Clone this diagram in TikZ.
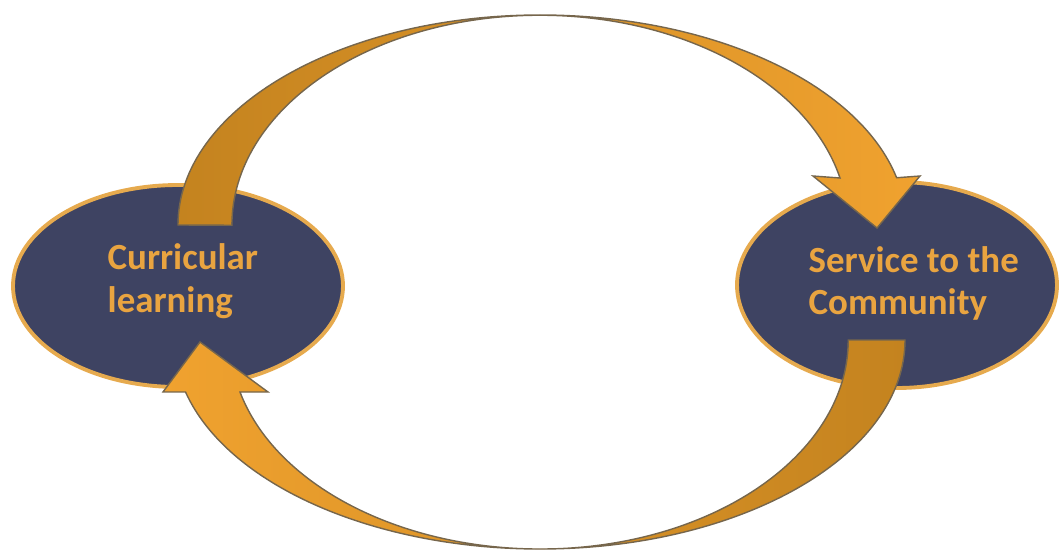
\documentclass[tikz,border=0pt]{standalone}
\usepackage{fontspec}
\setmainfont{Carlito}
\usetikzlibrary{shapes.geometric}
\definecolor{azul}{HTML}{3E4362}
\definecolor{borda}{HTML}{E6AA4E}
\definecolor{letra}{HTML}{E9A440}
\definecolor{laranjaescuro}{HTML}{C4831F}
\definecolor{laranjaclaro}{HTML}{F0A22F}
\definecolor{contorno}{HTML}{76664C}
\tikzset{
  bloco/.style={ellipse, draw=borda, line width=1.1pt, fill=azul, inner sep=0pt},
  texto/.style={anchor=west, text=letra, align=left, inner sep=0pt,
    font=\bfseries\fontsize{10.5}{12.2}\selectfont},
  seta/.style={draw=contorno, line width=0.4pt},
}

\begin{document}
\begin{tikzpicture}
    \useasboundingbox (0,0) rectangle (10.59,5.51);

    % Elipses
    \node[bloco, minimum width=3.30cm, minimum height=2.02cm] (curr) at (1.78,2.65) {};
    \node[bloco, minimum width=3.20cm, minimum height=2.06cm] (serv) at (8.97,2.66) {};

    % Textos
    \node[texto] (curr-txt) at (1.07,2.70) {Curricular\\learning};
    \node[texto] (serv-txt) at (8.08,2.675) {Service to the\\Community};

    % Seta de cima
    \shade[seta, left color=laranjaescuro, right color=laranjaclaro]
        (1.78,3.26) arc[start angle=180, end angle=90, x radius=3.62, y radius=2.10]
        arc[start angle=90, end angle=13, x radius=3.66, y radius=2.10]
        -- (9.20,3.75) -- (8.77,3.23) -- (8.13,3.75) -- (8.40,3.73)
        arc[start angle=13, end angle=90, x radius=3.08, y radius=2.10]
        arc[start angle=90, end angle=180, x radius=3.08, y radius=2.10]
        -- cycle;

    % Seta de baixo
    \shade[seta, left color=laranjaclaro, right color=laranjaescuro]
        (9.05,2.11) arc[start angle=0, end angle=-90, x radius=3.65, y radius=2.09]
        arc[start angle=270, end angle=194.4, x radius=3.66, y radius=2.09]
        -- (1.63,1.59) -- (2.00,2.09) -- (2.68,1.59) -- (2.40,1.59)
        arc[start angle=194.4, end angle=270, x radius=3.10, y radius=2.09]
        arc[start angle=270, end angle=360, x radius=3.08, y radius=2.09]
        -- cycle;
\end{tikzpicture}
\end{document}
